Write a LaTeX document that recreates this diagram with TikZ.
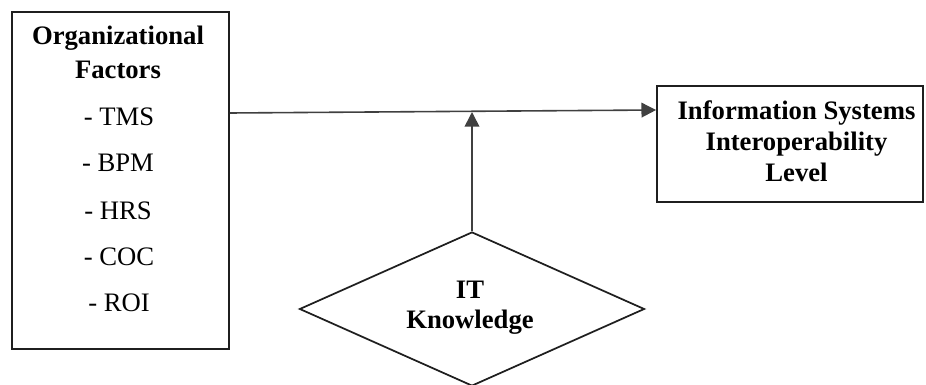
\documentclass[tikz,border=0pt]{standalone}
\usepackage{fontspec}
\setmainfont{Liberation Serif}
\usetikzlibrary{arrows.meta,shapes.geometric}
\begin{document}
\begin{tikzpicture}[x=0.75pt,y=-0.75pt,
  boxline/.style={draw=black!88,line width=1.3pt},
  lbl/.style={inner sep=0pt,font=\fontsize{20}{24}\selectfont\bfseries},
  item/.style={inner sep=0pt,font=\fontsize{20}{24}\selectfont},
  arr/.style={draw=black!75,line width=1.2pt,-{Triangle[length=11pt,width=11pt]}}]
\useasboundingbox (0,0) rectangle (926,385);
\node[boxline,minimum width=217*0.75pt,minimum height=337*0.75pt,inner sep=0pt] (lbox) at (120.5,180.5) {};
\node[boxline,minimum width=266*0.75pt,minimum height=116*0.75pt,inner sep=0pt] (rbox) at (790,144) {};
\node[boxline,diamond,minimum width=345*0.75pt,minimum height=154*0.75pt,inner sep=0pt] (dia) at (472,309) {};
\node[lbl] (t1) at (118,38) {Organizational};
\node[lbl] (t2) at (118,70) {Factors};
\node[item] (i1) at (119,117) {- TMS};
\node[item] (i2) at (118,163) {- BPM};
\node[item] (i3) at (118,211) {- HRS};
\node[item] (i4) at (119,257) {- COC};
\node[item] (i5) at (119,303) {- ROI};
\node[lbl] (r1) at (796.5,113) {Information Systems};
\node[lbl] (r2) at (796.5,144) {Interoperability};
\node[lbl] (r3) at (796.5,172) {Level};
\node[lbl] (d1) at (470,290) {IT};
\node[lbl] (d2) at (470,322) {Knowledge};
\coordinate (hs) at (lbox.north east |- 0,113);
\coordinate (he) at (rbox.west |- 0,110);
\coordinate (vj) at (dia.north |- 0,112);
\draw[arr] (hs) -- (he);
\draw[arr] (dia.north) -- (vj);
\end{tikzpicture}
\end{document}
